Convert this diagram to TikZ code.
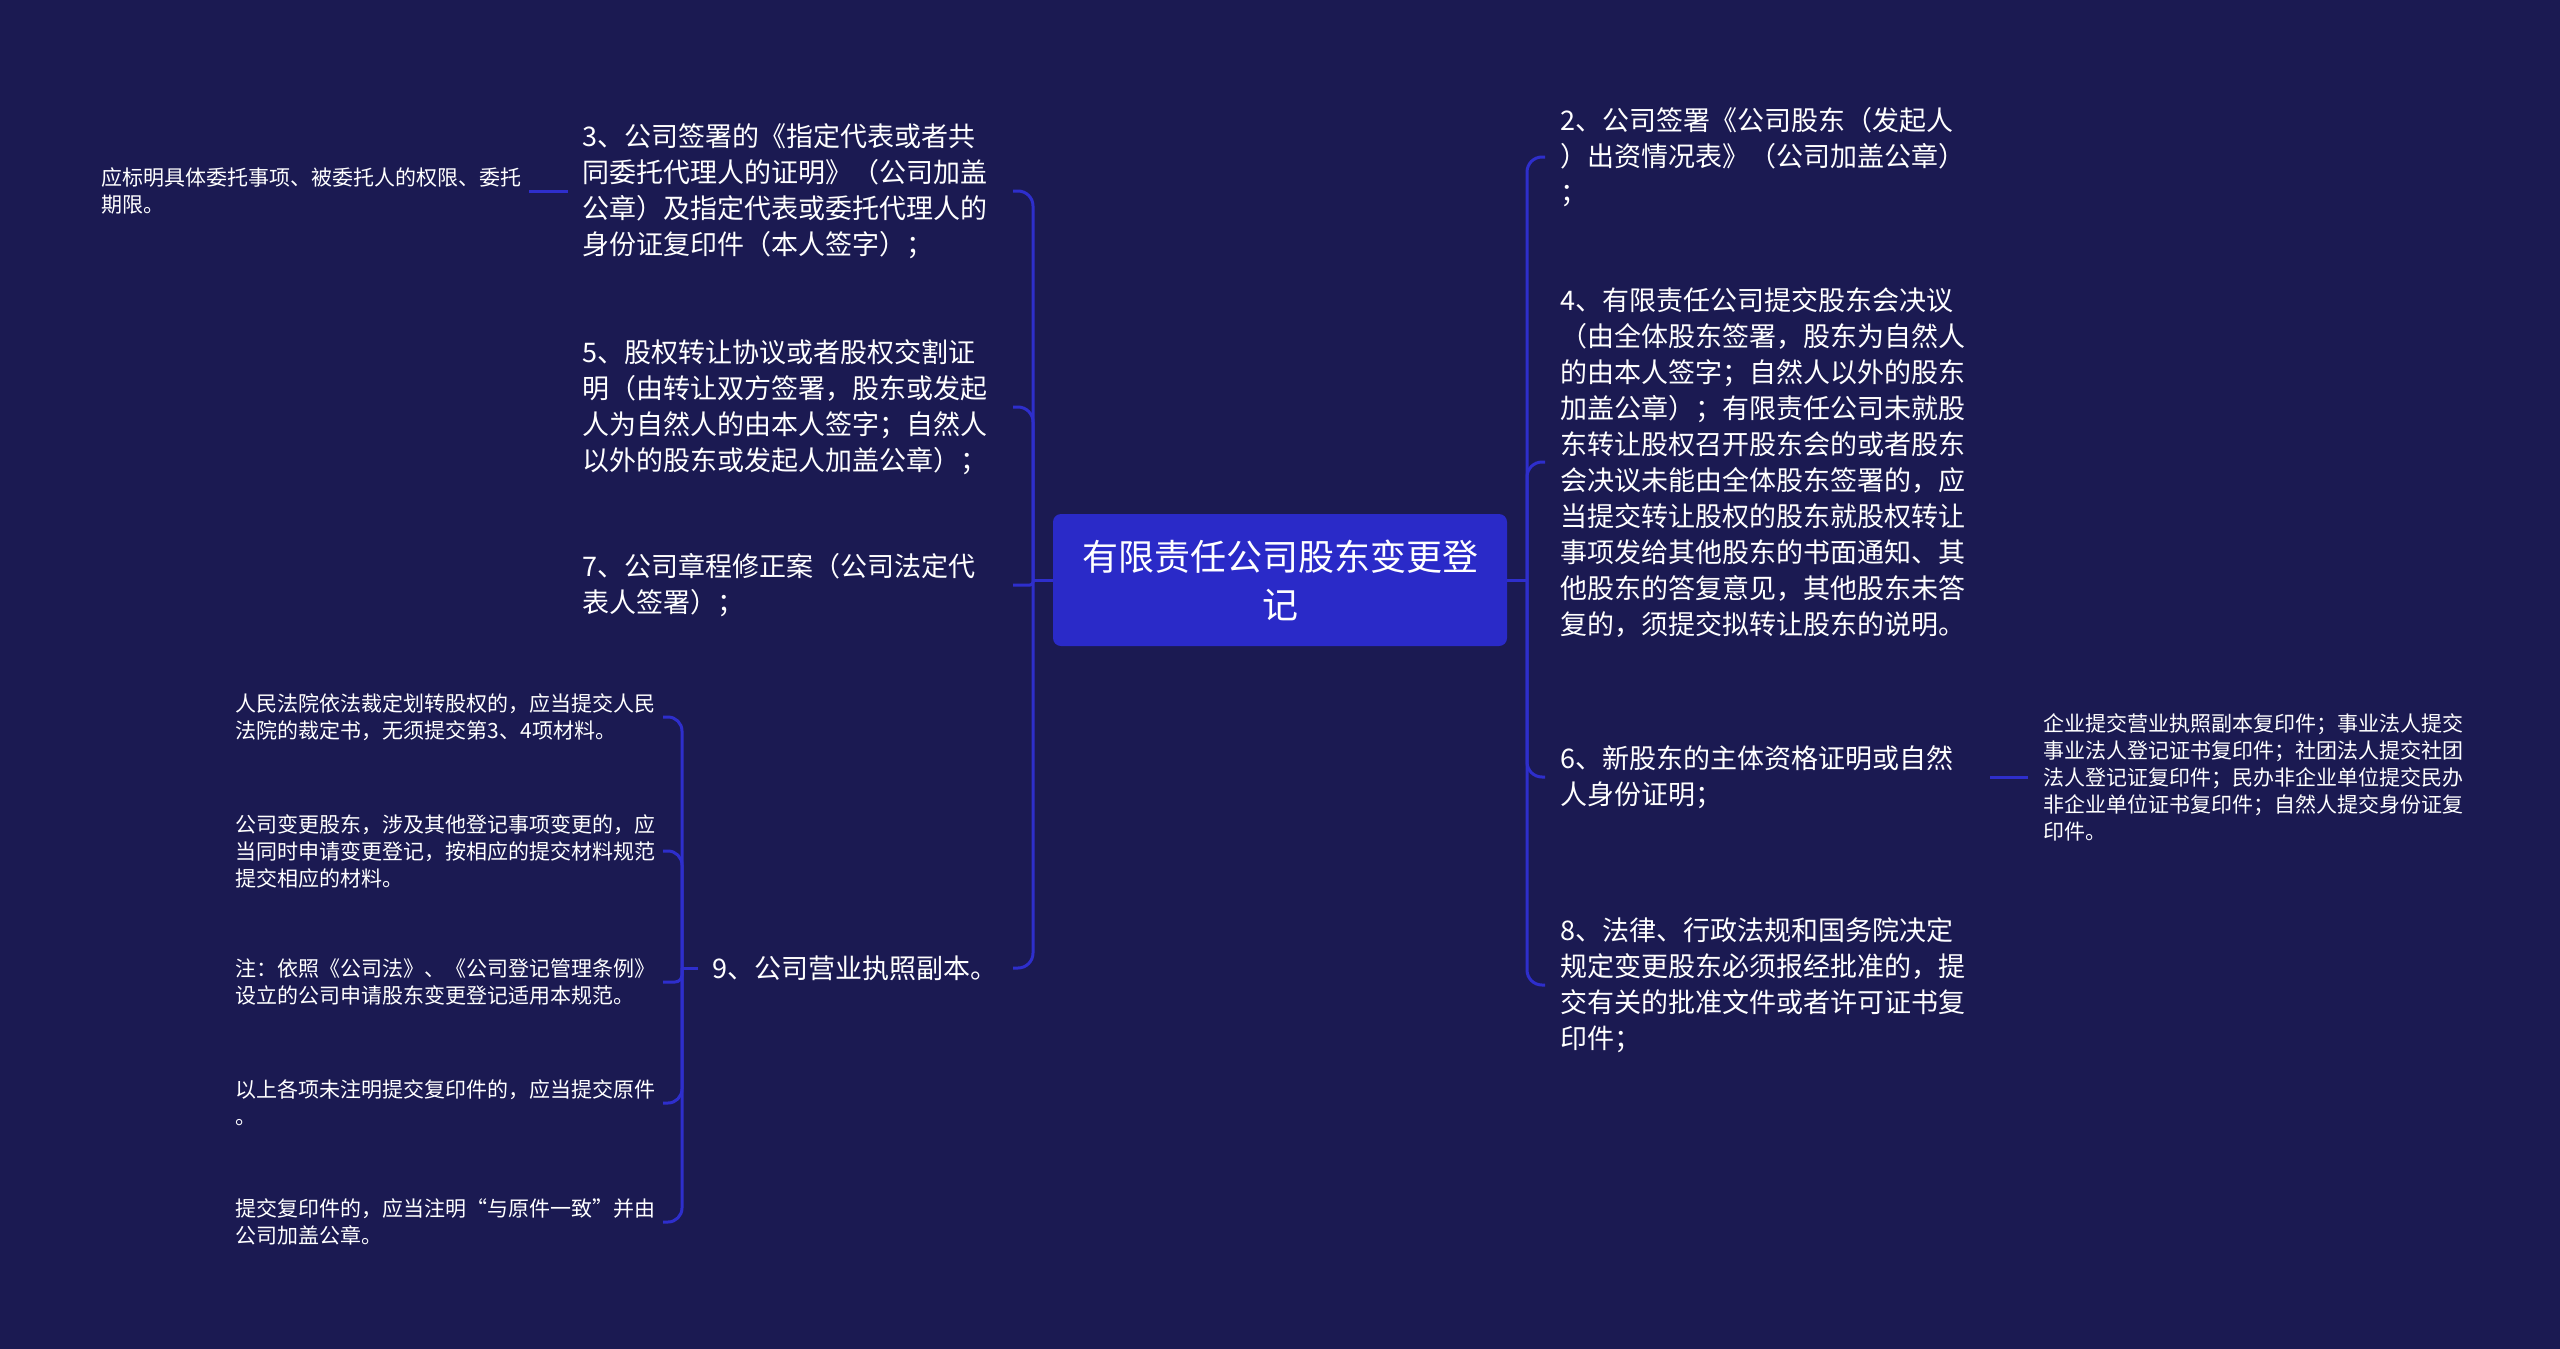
\documentclass[tikz,border=0pt]{standalone}
\usepackage{fontspec}
\setmainfont{Noto Sans CJK SC}
\usepackage{xcolor}
\definecolor{bgblue}{HTML}{1B1A52}
\definecolor{rootblue}{HTML}{2A2AC8}
\definecolor{linkblue}{HTML}{2E2ECC}

\begin{document}
\begin{tikzpicture}[
        x=1pt, y=-1pt,
        font=\fontsize{27}{36}\selectfont,
        text=white,
        root/.style={fill=rootblue, rounded corners=8pt, minimum width=454pt, minimum height=132pt, text width=400pt, align=center, font=\fontsize{36}{48}\selectfont},
        item/.style={text width=415pt, align=left, inner xsep=15pt, inner ysep=4pt},
        note/.style={text width=412pt, align=left, inner xsep=15pt, inner ysep=4pt, font=\fontsize{21}{27}\selectfont},
        link/.style={draw=linkblue, line width=3pt, rounded corners=15pt}
    ]

    % 背景
    \fill[bgblue] (0,0) rectangle (2560,1349);
    \useasboundingbox (0,0) rectangle (2560,1349);

    % 中心主题
    \node[root] (root) at (1280,580) {有限责任公司股东变更登\\记};

    % 左侧分支
    \node[item, anchor=east] (n3) at (1013,191) {3、公司签署的《指定代表或者共\\同委托代理人的证明》（公司加盖\\公章）及指定代表或委托代理人的\\身份证复印件（本人签字）；};
    \node[item, anchor=east] (n5) at (1013,407) {5、股权转让协议或者股权交割证\\明（由转让双方签署，股东或发起\\人为自然人的由本人签字；自然人\\以外的股东或发起人加盖公章）；};
    \node[item, anchor=east] (n7) at (1013,585) {7、公司章程修正案（公司法定代\\表人签署）；};
    \node[anchor=east, inner xsep=15pt] (n9) at (1013,968) {9、公司营业执照副本。};

    % 左侧说明
    \node[note, anchor=east] (m3) at (529,191) {应标明具体委托事项、被委托人的权限、委托\\期限。};
    \node[note, anchor=east] (c1) at (663,717) {人民法院依法裁定划转股权的，应当提交人民\\法院的裁定书，无须提交第3、4项材料。};
    \node[note, anchor=east] (c2) at (663,851) {公司变更股东，涉及其他登记事项变更的，应\\当同时申请变更登记，按相应的提交材料规范\\提交相应的材料。};
    \node[note, anchor=east] (c3) at (663,982) {注：依照《公司法》、《公司登记管理条例》\\设立的公司申请股东变更登记适用本规范。};
    \node[note, anchor=east] (c4) at (663,1103) {以上各项未注明提交复印件的，应当提交原件\\。};
    \node[note, anchor=east] (c5) at (663,1222) {提交复印件的，应当注明“与原件一致”并由\\公司加盖公章。};

    % 右侧分支
    \node[item, anchor=west] (n2) at (1545,157) {2、公司签署《公司股东（发起人\\）出资情况表》（公司加盖公章）\\；};
    \node[item, anchor=west] (n4) at (1545,462) {4、有限责任公司提交股东会决议\\（由全体股东签署，股东为自然人\\的由本人签字；自然人以外的股东\\加盖公章）；有限责任公司未就股\\东转让股权召开股东会的或者股东\\会决议未能由全体股东签署的，应\\当提交转让股权的股东就股权转让\\事项发给其他股东的书面通知、其\\他股东的答复意见，其他股东未答\\复的，须提交拟转让股东的说明。};
    \node[item, anchor=west] (n6) at (1545,777) {6、新股东的主体资格证明或自然\\人身份证明；};
    \node[item, anchor=west] (n8) at (1545,985) {8、法律、行政法规和国务院决定\\规定变更股东必须报经批准的，提\\交有关的批准文件或者许可证书复\\印件；};

    % 右侧说明
    \node[note, anchor=west] (m6) at (2028,777) {企业提交营业执照副本复印件；事业法人提交\\事业法人登记证书复印件；社团法人提交社团\\法人登记证复印件；民办非企业单位提交民办\\非企业单位证书复印件；自然人提交身份证复\\印件。};

    % 连线
    \coordinate (lj) at ([xshift=20pt]n3.east |- root.west);
    \coordinate (rj) at ([xshift=-18pt]n2.west |- root.east);
    \coordinate (bj) at ([xshift=19pt]c1.east |- n9.west);
    \draw[link] (root.west) -- (lj);
    \draw[link] (root.east) -- (rj);
    \foreach \n in {n3,n5,n9} \draw[link] (lj) |- (\n.east);
    \draw[link, rounded corners=3pt] (lj) |- (n7.east);
    \foreach \n in {n2,n4,n6,n8} \draw[link] (rj) |- (\n.west);
    \draw[link] (n3.west) -- (m3.east);
    \draw[link] (n6.east) -- (m6.west);
    \draw[link] (n9.west) -- (bj);
    \foreach \c in {c1,c2,c4,c5} \draw[link, rounded corners=14pt] (bj) |- (\c.east);
    \draw[link, rounded corners=7pt] (bj) |- (c3.east);

\end{tikzpicture}
\end{document}
